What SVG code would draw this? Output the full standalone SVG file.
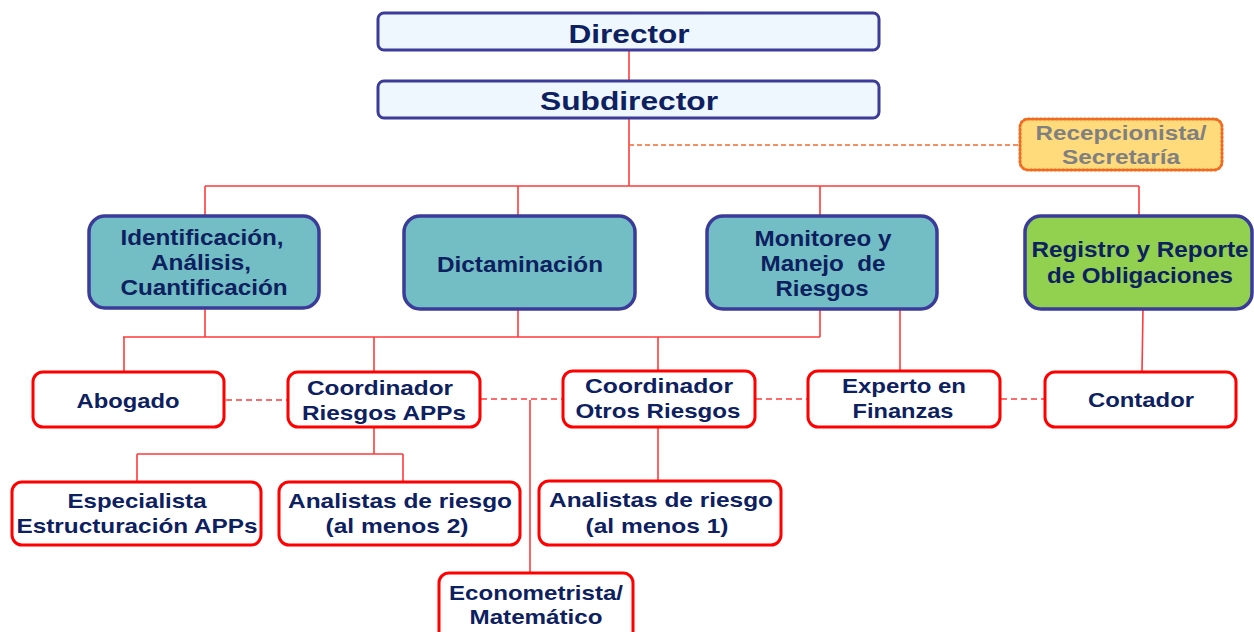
<svg xmlns="http://www.w3.org/2000/svg" width="1254" height="632" viewBox="0 0 1254 632">
<style>
text{font-family:"Liberation Sans",Arial,sans-serif;font-weight:bold;fill:#0D2060;text-anchor:middle}
.top rect{fill:#EEF6FE;stroke:#3B3B99;stroke-width:3}
.l2 rect{fill:#72BEC4;stroke:#3B3B99;stroke-width:3.5}
.l2g rect{fill:#92D050;stroke:#3B3B99;stroke-width:3.5}
.l3 rect{fill:#FFFFFF;stroke:#FF0000;stroke-width:3}
.t26{font-size:26px}.t22{font-size:22px}.t21{font-size:21px}
.c path{fill:none;stroke:#FF3B3B;stroke-width:1.6}
.c .d{stroke-dasharray:6 4}
.c .o{stroke:#F06A30;stroke-dasharray:5 3}
</style>
<g class="c" id="connectors">
<path d="M629 50V81"/>
<path d="M629 118V186"/>
<path class="o" d="M629 145H1020"/>
<path d="M205 186H1139M205 186V216M518 186V216M820 186V216M1139 186V216"/>
<path d="M205 308V337M518 309V337M820 309V337M123 337H820M124 337V372M374 337V372M658 337V370"/>
<path d="M900 309V371"/>
<path d="M1143 309L1142 372"/>
<path class="d" d="M226 400H288M481 399H563M756 399H808M1001 399H1045"/>
<path d="M530 400V573"/>
<path d="M374 428V454M137 454H403M137 454V482M403 454V482"/>
<path d="M658 427V481"/>
</g>
<g id="director" class="top"><rect x="378" y="13" width="501" height="37" rx="6"/><text class="t26" x="629" y="43" textLength="121" lengthAdjust="spacingAndGlyphs">Director</text></g>
<g id="subdirector" class="top"><rect x="378" y="81" width="501" height="37" rx="6"/><text class="t26" x="629" y="110" textLength="178" lengthAdjust="spacingAndGlyphs">Subdirector</text></g>
<g id="recepcionista"><rect x="1020" y="119" width="202" height="51" rx="8" fill="#FFDB7C" stroke="#F06A20" stroke-width="3" stroke-dasharray="1.5 2.5" stroke-linecap="round"/><text x="1121" y="140" style="font-size:20px;fill:#808080" textLength="171" lengthAdjust="spacingAndGlyphs">Recepcionista/</text><text x="1121" y="164" style="font-size:20px;fill:#808080" textLength="118" lengthAdjust="spacingAndGlyphs">Secretaría</text></g>
<g id="identificacion" class="l2"><rect x="89" y="216" width="230" height="92" rx="16"/><text class="t22" x="202" y="245" textLength="163" lengthAdjust="spacingAndGlyphs">Identificación,</text><text class="t22" x="201" y="270" textLength="100" lengthAdjust="spacingAndGlyphs">Análisis,</text><text class="t22" x="204" y="295" textLength="167" lengthAdjust="spacingAndGlyphs">Cuantificación</text></g>
<g id="dictaminacion" class="l2"><rect x="404" y="216" width="231" height="93" rx="16"/><text class="t22" x="520" y="272" textLength="166" lengthAdjust="spacingAndGlyphs">Dictaminación</text></g>
<g id="monitoreo" class="l2"><rect x="707" y="216" width="230" height="93" rx="16"/><text class="t22" x="823" y="246" textLength="137" lengthAdjust="spacingAndGlyphs">Monitoreo y</text><text class="t22" x="823" y="271" textLength="125" lengthAdjust="spacingAndGlyphs" xml:space="preserve">Manejo  de</text><text class="t22" x="822" y="296" textLength="93" lengthAdjust="spacingAndGlyphs">Riesgos</text></g>
<g id="registro" class="l2g"><rect x="1025" y="216" width="227" height="93" rx="16"/><text class="t22" x="1140" y="257" textLength="217" lengthAdjust="spacingAndGlyphs">Registro y Reporte</text><text class="t22" x="1140" y="283" textLength="186" lengthAdjust="spacingAndGlyphs">de Obligaciones</text></g>
<g id="abogado" class="l3"><rect x="33" y="372" width="191" height="55" rx="10"/><text class="t21" x="128" y="408" textLength="103" lengthAdjust="spacingAndGlyphs">Abogado</text></g>
<g id="coord-apps" class="l3"><rect x="288" y="372" width="192" height="55" rx="10"/><text class="t21" x="380" y="395" textLength="146" lengthAdjust="spacingAndGlyphs">Coordinador</text><text class="t21" x="384" y="420" textLength="164" lengthAdjust="spacingAndGlyphs">Riesgos APPs</text></g>
<g id="coord-otros" class="l3"><rect x="563" y="371" width="192" height="56" rx="10"/><text class="t21" x="659" y="393" textLength="148" lengthAdjust="spacingAndGlyphs">Coordinador</text><text class="t21" x="658" y="418" textLength="165" lengthAdjust="spacingAndGlyphs">Otros Riesgos</text></g>
<g id="experto" class="l3"><rect x="808" y="371" width="192" height="56" rx="10"/><text class="t21" x="904" y="393" textLength="124" lengthAdjust="spacingAndGlyphs">Experto en</text><text class="t21" x="903" y="418" textLength="101" lengthAdjust="spacingAndGlyphs">Finanzas</text></g>
<g id="contador" class="l3"><rect x="1045" y="372" width="191" height="55" rx="10"/><text class="t21" x="1141" y="407" textLength="106" lengthAdjust="spacingAndGlyphs">Contador</text></g>
<g id="especialista" class="l3"><rect x="12" y="482" width="249" height="63" rx="10"/><text class="t21" x="137" y="508" textLength="139" lengthAdjust="spacingAndGlyphs">Especialista</text><text class="t21" x="137" y="533" textLength="241" lengthAdjust="spacingAndGlyphs">Estructuración APPs</text></g>
<g id="analistas2" class="l3"><rect x="279" y="482" width="241" height="63" rx="10"/><text class="t21" x="400" y="508" textLength="224" lengthAdjust="spacingAndGlyphs">Analistas de riesgo</text><text class="t21" x="397" y="533" textLength="143" lengthAdjust="spacingAndGlyphs">(al menos 2)</text></g>
<g id="analistas1" class="l3"><rect x="539" y="481" width="242" height="64" rx="10"/><text class="t21" x="661" y="507" textLength="224" lengthAdjust="spacingAndGlyphs">Analistas de riesgo</text><text class="t21" x="657" y="533" textLength="143" lengthAdjust="spacingAndGlyphs">(al menos 1)</text></g>
<g id="econometrista" class="l3"><rect x="439" y="573" width="194" height="70" rx="10"/><text class="t21" x="536" y="600" textLength="174" lengthAdjust="spacingAndGlyphs">Econometrista/</text><text class="t21" x="536" y="624" textLength="133" lengthAdjust="spacingAndGlyphs">Matemático</text></g>
</svg>
